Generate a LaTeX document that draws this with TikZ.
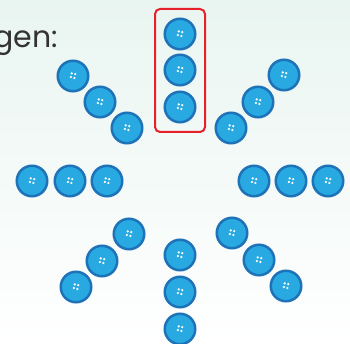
\documentclass[tikz,border=0pt]{standalone}
\usepackage{fontspec}
\newfontfamily\headfont{Poppins}
\definecolor{btnfill}{HTML}{29A9E1}
\definecolor{btnring}{HTML}{1E72B8}
\definecolor{frame}{HTML}{E62129}
\definecolor{bgtop}{HTML}{E9F5F1}
\definecolor{txt}{HTML}{333333}
\tikzset{
  btn/.style={circle, draw=btnring, fill=btnfill, line width=2.5pt, minimum size=30.5pt, inner sep=0pt,
    path picture={
      \begin{scope}[shift={(path picture bounding box.center)}]
        \foreach \dx/\dy in {-1.3/2.6, 2.2/1.8, -2.2/-1.0, 1.3/-2.0}
          \fill[white] (\dx pt,\dy pt) circle (1.25pt);
      \end{scope}}},
  redframe/.style={draw=frame, line width=2pt, rounded corners=5pt}
}
\begin{document}
\begin{tikzpicture}[x=1pt,y=-1pt]
\shade[top color=bgtop, bottom color=white] (0,0) rectangle (350,344);
\useasboundingbox (0,0) rectangle (350,344);
\node[anchor=base east, font=\headfont\fontsize{30}{36}\selectfont, text=txt, inner sep=0pt] (head) at (58,48) {gen:};
% top
\node[btn] (t1) at (180,34) {};
\node[btn] (t2) at (180,70) {};
\node[btn] (t3) at (180,107) {};
% bottom
\node[btn] (d1) at (180,255) {};
\node[btn] (d2) at (180,292) {};
\node[btn] (d3) at (180,329) {};
% left
\node[btn] (l1) at (32,181) {};
\node[btn] (l2) at (70,181) {};
\node[btn] (l3) at (107,181) {};
% right
\node[btn] (r1) at (254,181) {};
\node[btn] (r2) at (291,181) {};
\node[btn] (r3) at (328,181) {};
% upper left
\node[btn] (ul1) at (73,76) {};
\node[btn] (ul2) at (100,102) {};
\node[btn] (ul3) at (127,128) {};
% upper right
\node[btn] (ur1) at (284,75) {};
\node[btn] (ur2) at (258,102) {};
\node[btn] (ur3) at (231,128) {};
% lower left
\node[btn] (ll1) at (129,234) {};
\node[btn] (ll2) at (102,261) {};
\node[btn] (ll3) at (76,287) {};
% lower right
\node[btn] (lr1) at (232,233) {};
\node[btn] (lr2) at (259,260) {};
\node[btn] (lr3) at (286,286) {};
% red frame
\draw[redframe] (155,9) rectangle (205,132);
\end{tikzpicture}
\end{document}
